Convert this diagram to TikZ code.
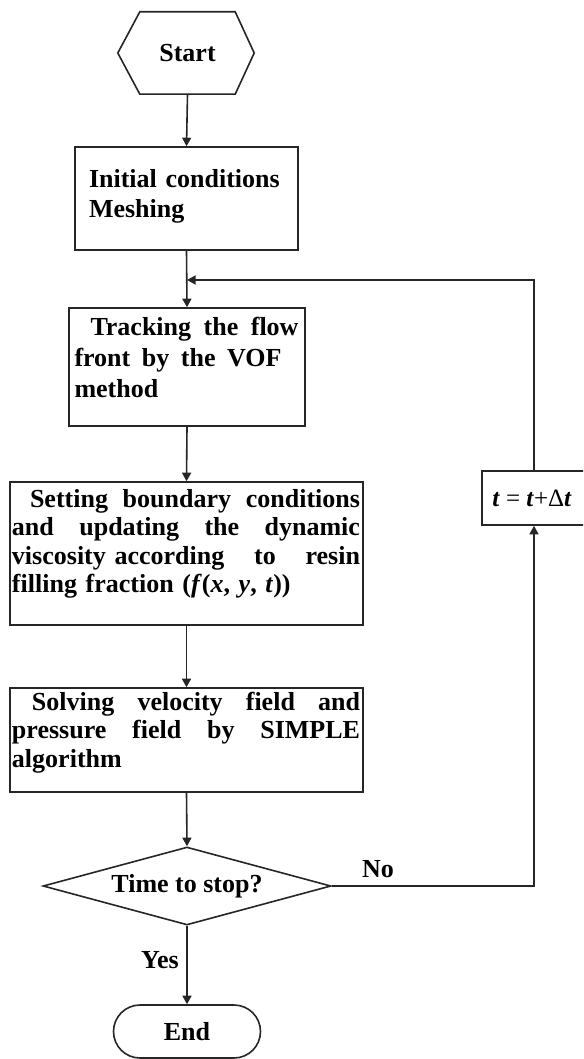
\documentclass[tikz,border=0pt]{standalone}
\usepackage{fontspec}
\setmainfont{Liberation Serif}
\usetikzlibrary{shapes.geometric,shapes.misc,arrows.meta,calc}
\newcommand{\jline}[2]{\leavevmode\hbox to #1{#2}}
\begin{document}
\begin{tikzpicture}[x=1pt,y=1pt,
  every node/.style={font=\fontsize{26}{30}\selectfont\bfseries, text=black},
  ln/.style={draw=black!85, line width=1.6pt},
  arr/.style={ln, -{Triangle[width=9pt,length=8.5pt]}},
  procbox/.style={ln, rectangle, align=left, inner ysep=0pt, text height=20pt}]
\useasboundingbox (0,0) rectangle (583,-1059);
\clip (0,0) rectangle (583,-1059);
\fill[white] (0,0) rectangle (583,-1059);

% Start hexagon
\node (start) [rectangle, minimum width=95, minimum height=82, inner sep=0] at (187.5,-53) {Start};
\draw[ln] (start.north west) -- (start.north east) -- ($(start.east)+(19,0)$) -- (start.south east)
  -- (start.south west) -- ($(start.west)+(-22,0)$) -- cycle;

\node (init) [procbox, minimum width=223, minimum height=103, inner xsep=14, text width=195,
  text depth=41pt] at (186.5,-198.5)
  {Initial conditions\\Meshing};

\node (track) [procbox, minimum width=236, minimum height=118, inner xsep=5.5, text width=225,
  text depth=84pt, font=\fontsize{26}{31}\selectfont\bfseries] at (187,-367)
  {\hspace*{16pt}\jline{208pt}{Tracking\hfill the\hfill flow}\\
   \jline{207pt}{front\hfill by\hfill the\hfill VOF}\\
   method};

\node (setbc) [procbox, minimum width=353, minimum height=143, inner xsep=2, text width=349,
  text depth=113pt, font=\fontsize{26}{28.5}\selectfont\bfseries] at (186.5,-553.5)
  {\hspace*{18pt}\jline{330pt}{Setting\hfill boundary\hfill conditions}\\
   \jline{348pt}{and\hfill updating\hfill the\hfill dynamic}\\
   \jline{348pt}{viscosity according\hfill to\hfill resin}\\
   filling fraction (\textit{f}(\textit{x}, \textit{y}, \textit{t}))};

\node (solve) [procbox, minimum width=353, minimum height=104, inner xsep=2, text width=349,
  text depth=80pt, font=\fontsize{26}{28.5}\selectfont\bfseries] at (186.5,-740)
  {\hspace*{20pt}\jline{328pt}{Solving\hfill velocity\hfill field\hfill and}\\
   \jline{348pt}{pressure\hfill field\hfill by\hfill SIMPLE}\\
   algorithm};

\node (dec) [ln, diamond, aspect=3.69, minimum width=288, minimum height=78, inner sep=0] at (187,-886)
  {Time to stop?};

\node (endn) [ln, rounded rectangle, minimum width=147, minimum height=53, inner sep=0] at (187,-1031.5) {End};

\node (tbox) [ln, rectangle, minimum width=104, minimum height=54, inner sep=0,
  font=\fontsize{25}{30}\selectfont] at (534,-498)
  {\hspace*{-4pt}\textbf{\textit{t}} = \textbf{\textit{t}}+Δ\textbf{\textit{t}}};

\node (no) at (378,-869) {No};
\node (yes) at (160,-960) {Yes};

\coordinate (join) at (187,-280);

\draw[arr] (start.south) -- (init.north);
\draw[arr] (init.south) -- (track.north);
\draw[arr] (track.south) -- (setbc.north);
\draw[arr] (setbc.south) -- (solve.north);
\draw[arr] (solve.south) -- (dec.north);
\draw[arr] (dec.south) -- (endn.north);
\draw[arr] (dec.east) -- (dec.east -| tbox.south) -- (tbox.south);
\draw[arr] (tbox.north) -- (tbox.north |- join) -- (join);
\end{tikzpicture}
\end{document}
